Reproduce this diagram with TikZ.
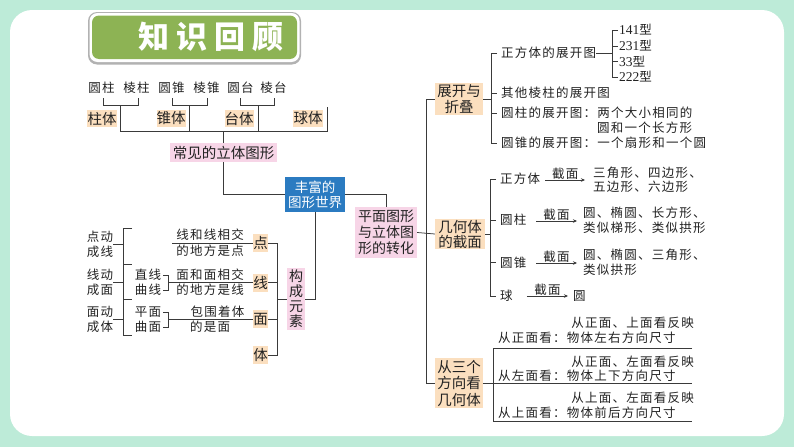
\documentclass[tikz,border=0pt]{standalone}
\usepackage{fontspec}
\usetikzlibrary{arrows.meta,calc}
\setmainfont{Liberation Serif}
\newfontfamily\cjk[LetterSpace=10]{Noto Sans CJK SC}
\newfontfamily\cjkplain{Noto Sans CJK SC}
\newfontfamily\cjktitle[LetterSpace=22]{Noto Sans CJK SC}
\newfontfamily\lat{Liberation Serif}
\newcommand\smallcjk{\cjk\fontsize{12.5}{15}\selectfont}
\newcommand\boxcjk{\cjkplain\fontsize{14.5}{16}\selectfont}
\definecolor{mint}{HTML}{BDEBD8}
\definecolor{tgreen}{HTML}{8DB354}
\definecolor{beigec}{HTML}{FBDFBF}
\definecolor{pinkc}{HTML}{F7D5E7}
\definecolor{bluec}{HTML}{2B7BC1}
\definecolor{linec}{HTML}{3A3A3A}
\definecolor{textc}{HTML}{222222}
\tikzset{
  ln/.style={draw=linec, line width=0.75pt},
  arr/.style={draw=linec, line width=0.75pt, -{Stealth[length=4pt,width=3.5pt]}},
  t/.style={font=\smallcjk, inner sep=0pt, text=textc},
  lbl/.style={font=\smallcjk, inner sep=0pt, text=textc, anchor=south},
  bx/.style={inner sep=0pt, font=\boxcjk, text=textc, align=center},
  beige/.style={bx, fill=beigec},
  pink/.style={bx, fill=pinkc},
}
\begin{document}
\begin{tikzpicture}[x=1pt,y=-1pt]
\useasboundingbox (0,0) rectangle (794,447);
\fill[mint] (0,0) rectangle (794,447);
\fill[white, rounded corners=22pt] (10,10) rectangle (784,436);
% title banner
\fill[black!30, rounded corners=9pt] (88,12) rectangle (301,64.5);
\fill[white, rounded corners=8pt] (89.5,13) rectangle (299.5,62);
\fill[tgreen, rounded corners=7pt] (92,15.5) rectangle (297,59);
\node[font=\cjktitle\bfseries\fontsize{31}{31}\selectfont, text=white, inner sep=0pt] (title) at (211,37) {知识回顾};
% top row
\node[t] (yz) at (101.5,88) {圆柱};
\node[t] (lz) at (136.5,88) {棱柱};
\node[t] (yzh) at (171.5,88) {圆锥};
\node[t] (lzh) at (206.5,88) {棱锥};
\node[t] (yt) at (240.5,88) {圆台};
\node[t] (lt) at (273.5,88) {棱台};
\draw[ln] (103,98) |- (138,105) -- (138,98);
\draw[ln] (172,98) |- (207,105) -- (207,98);
\draw[ln] (240,98) |- (274,105) -- (274,98);
\node[beige, minimum width=30pt, minimum height=17pt] (zt) at (102,118.5) {柱体};
\node[beige, minimum width=29pt, minimum height=17pt] (zht) at (171,118.5) {锥体};
\node[beige, minimum width=29pt, minimum height=17pt] (tt) at (239,118.5) {台体};
\node[beige, minimum width=30pt, minimum height=17pt] (qt) at (308,118.5) {球体};
\coordinate (hz1) at (120,131);
\coordinate (hz2) at (327,131);
\draw[ln] (120,105) -- (hz1) -- (hz2) -- (327,107);
\draw[ln] (189,105) -- (189,131);
\draw[ln] (258,105) -- (258,131);
\node[pink, minimum width=107pt, minimum height=19pt] (cj) at (223.5,152.5) {常见的立体图形};
\draw[ln] (223.5,131) -- (cj.north);
% centre
\node[bx, fill=bluec, text=white, font=\cjkplain\fontsize{13.5}{15}\selectfont, minimum width=60pt, minimum height=35pt] (center) at (315,194.5) {丰富的\\图形世界};
\draw[ln] (cj.south) |- (center.west);
\node[pink, font=\cjkplain\fontsize{14}{16}\selectfont, minimum width=62pt, minimum height=51pt] (pm) at (386,232.5) {平面图形\\与立体图\\形的转化};
\draw[ln] (center.east) -| (pm.north);
\node[pink, font=\cjkplain\fontsize{14}{15}\selectfont, minimum width=18pt, minimum height=62pt] (gc) at (296,299) {构\\成\\元\\素};
\draw[ln] (center.south) |- (gc.east);
% elements
\node[beige, minimum width=15pt, minimum height=18pt] (dian) at (260.5,243) {点};
\node[beige, minimum width=15pt, minimum height=18pt] (xian) at (260.5,282.5) {线};
\node[beige, minimum width=15pt, minimum height=18pt] (mian) at (260.5,319) {面};
\node[beige, minimum width=15pt, minimum height=18pt] (ti) at (260.5,355) {体};
\draw[ln] (dian.east) -- ++(9,0) coordinate (b1) -- (b1 |- ti.east) -- (ti.east);
\draw[ln] (xian.east) -- (xian.east -| b1);
\draw[ln] (mian.east) -- (mian.east -| b1);
\draw[ln] (gc.west) -- (gc.west -| b1);
\node[t, align=center, font=\cjk\fontsize{12.5}{16}\selectfont] (d1) at (210,243) {线和线相交\\的地方是点};
\coordinate (d0) at (172,243);
\draw[ln] (d0) -- (dian.west);
\node[t] (zx) at (148,275) {直线};
\node[t] (qx) at (148,290) {曲线};
\draw[ln] (163,275) -- (168,275) -- (168,290) -- (163,290);
\coordinate (x0) at (168,282.5);
\draw[ln] (x0) -- (xian.west);
\node[t, align=center] (x1) at (210,282.5) {面和面相交\\的地方是线};
\node[t] (pmian) at (148,312) {平面};
\node[t] (qm) at (148,327) {曲面};
\draw[ln] (163,312) -- (168,312) -- (168,327) -- (163,327);
\coordinate (m0c) at (168,319);
\draw[ln] (m0c) -- (mian.west);
\node[t] (m1) at (217.5,311.5) {包围着体};
\node[t] (m2) at (210,327) {的是面};
% left column
\node[t, align=center] (dd) at (100,244.5) {点动\\成线};
\node[t, align=center] (xd) at (100,282.5) {线动\\成面};
\node[t, align=center] (md) at (100,319.5) {面动\\成体};
\coordinate (lb1) at (123,228);
\coordinate (lb2) at (123,335);
\draw[ln] (132,228) -- (lb1) -- (lb2) -- (132,335);
\draw[ln] (123,264) -- (132,264);
\draw[ln] (123,299) -- (132,299);
\draw[ln] (dd.east) -- (dd.east -| lb1);
\draw[ln] (xd.east) -- (xd.east -| lb1);
\draw[ln] (md.east) -- (md.east -| lb1);
% right main
\node[beige, minimum width=48pt, minimum height=32pt] (zk) at (459,99) {展开与\\折叠};
\node[beige, font=\cjkplain\fontsize{14.5}{15}\selectfont, minimum width=50pt, minimum height=30pt] (jh) at (460,234) {几何体\\的截面};
\node[beige, font=\cjkplain\fontsize{14.5}{16.5}\selectfont, minimum width=48pt, minimum height=50pt] (sf) at (459,383) {从三个\\方向看\\几何体};
\draw[ln] (zk.west) -- ++(-8,0) coordinate (mv) -- (mv |- sf.west) -- (sf.west);
\draw[ln] (pm.east) -- (jh.west);
% unfold
\draw[ln] (zk.east) -- ++(8,0) coordinate (zb);
\draw[ln] (497,53) -- (491,53) -- (491,143) -- (497,143);
\draw[ln] (491,93) -- (497,93);
\draw[ln] (491,113) -- (497,113);
\node[t, anchor=west] (zf) at (501,53) {正方体的展开图};
\node[t, anchor=west] (qt2) at (501,93) {其他棱柱的展开图};
\node[t, anchor=west] (yzk) at (501,113) {圆柱的展开图：两个大小相同的};
\node[t, anchor=west] (yzk2) at (597,128) {圆和一个长方形};
\node[t, anchor=west] (yzhk) at (501,143) {圆锥的展开图：一个扇形和一个圆};
\coordinate (cb) at (612,53);
\draw[ln] (zf.east) -- (cb);
\draw[ln] (618,30) -- (612,30) -- (612,77) -- (618,77);
\draw[ln] (612,46) -- (618,46);
\draw[ln] (612,61.5) -- (618,61.5);
\node[t, anchor=west] (c1) at (619,30) {{\lat\fontsize{13.5}{15}\selectfont 141}型};
\node[t, anchor=west] (c2) at (619,46) {{\lat\fontsize{13.5}{15}\selectfont 231}型};
\node[t, anchor=west] (c3) at (619,61.5) {{\lat\fontsize{13.5}{15}\selectfont 33}型};
\node[t, anchor=west] (c4) at (619,77) {{\lat\fontsize{13.5}{15}\selectfont 222}型};
% sections
\draw[ln] (jh.east) -- (490,234);
\draw[ln] (496,179) -- (490,179) -- (490,296) -- (496,296);
\draw[ln] (490,220) -- (496,220);
\draw[ln] (490,262.5) -- (496,262.5);
\node[t, anchor=west] (s1) at (500,179) {正方体};
\node[t, anchor=west] (s2) at (500,220) {圆柱};
\node[t, anchor=west] (s3) at (500,262.5) {圆锥};
\node[t, anchor=west] (s4) at (500,296) {球};
\node[t, anchor=west, align=left, font=\cjk\fontsize{12.5}{14}\selectfont] (r1) at (593,180) {三角形、四边形、\\五边形、六边形};
\node[t, anchor=west, align=left] (r2) at (583,220.5) {圆、椭圆、长方形、\\类似梯形、类似拱形};
\node[t, anchor=west, align=left] (r3) at (583,262.5) {圆、椭圆、三角形、\\类似拱形};
\node[t, anchor=west] (r4) at (573,296) {圆};
\draw[arr] ($(s1.east)+(5,1)$) -- node[lbl]{截面} ($(r1.west)+(-8,0)$);
\draw[arr] ($(s2.east)+(9.5,1)$) -- node[lbl]{截面} ($(r2.west)+(-6,0.5)$);
\draw[arr] ($(s3.east)+(9.5,0.5)$) -- node[lbl]{截面} ($(r3.west)+(-6,0.5)$);
\draw[arr] ($(s4.east)+(14,0)$) -- node[lbl]{截面} ($(r4.west)+(-5,0)$);
% three views
\coordinate (v1) at (692,348);
\coordinate (v2) at (692,383);
\coordinate (v3) at (692,421);
\draw[ln] (sf.east) -- (v2);
\draw[ln] (v1) -- (493,348) -- (493,421) -- (v3);
\node[t, anchor=east] (w1) at (694,323) {从正面、上面看反映};
\node[t, anchor=west] (w2) at (498,338) {从正面看：物体左右方向尺寸};
\node[t, anchor=east] (w3) at (694,362) {从正面、左面看反映};
\node[t, anchor=west] (w4) at (498,376) {从左面看：物体上下方向尺寸};
\node[t, anchor=east] (w5) at (694,398) {从上面、左面看反映};
\node[t, anchor=west] (w6) at (498,413) {从上面看：物体前后方向尺寸};
\end{tikzpicture}
\end{document}
